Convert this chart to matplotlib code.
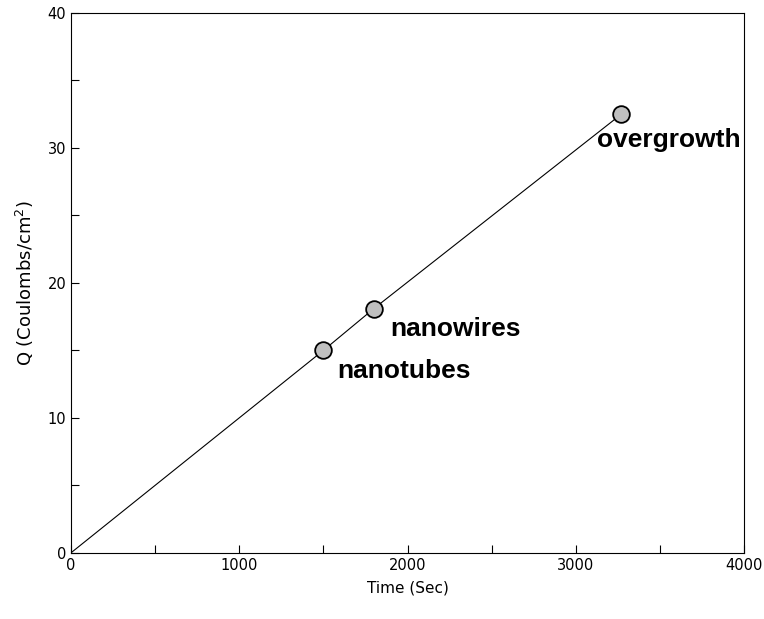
import matplotlib
matplotlib.use('Agg')
import matplotlib.pyplot as plt
from matplotlib.ticker import MultipleLocator

# data
time_sec = [0, 1500, 1800, 3270]
charge = [0, 15.0, 18.1, 32.5]
point_time = [1500, 1800, 3270]
point_charge = [15.0, 18.1, 32.5]
point_names = ['nanotubes', 'nanowires', 'overgrowth']
label_x = [1580, 1895, 3125]
label_y = [13.5, 16.6, 30.6]

fig = plt.figure(figsize=(7.64, 6.19), dpi=100)
ax = fig.add_axes([0.093, 0.107, 0.881, 0.872])

ax.plot(time_sec, charge, color='black', linewidth=0.8)
ax.plot(point_time, point_charge, 'o', markersize=12, markerfacecolor='#c0c0c0',
        markeredgecolor='black', markeredgewidth=1.3)
for name, lx, ly in zip(point_names, label_x, label_y):
    ax.text(lx, ly, name, fontsize=19, fontweight='bold', family='Liberation Sans',
            va='center', ha='left')

ax.set_xlim(0, 4000)
ax.set_ylim(0, 40)
ax.xaxis.set_major_locator(MultipleLocator(1000))
ax.xaxis.set_minor_locator(MultipleLocator(500))
ax.yaxis.set_major_locator(MultipleLocator(10))
ax.yaxis.set_minor_locator(MultipleLocator(5))
ax.tick_params(which='both', direction='in', length=6, width=0.8, labelsize=10.5)
ax.tick_params(which='both', top=False, right=False)
for s in ax.spines.values():
    s.set_linewidth(0.8)

ax.set_xlabel('Time (Sec)', fontsize=11, labelpad=6)
ax.set_ylabel('Q (Coulombs/cm$^2$)', fontsize=13, labelpad=8)

fig.savefig('out.png', dpi=100)
